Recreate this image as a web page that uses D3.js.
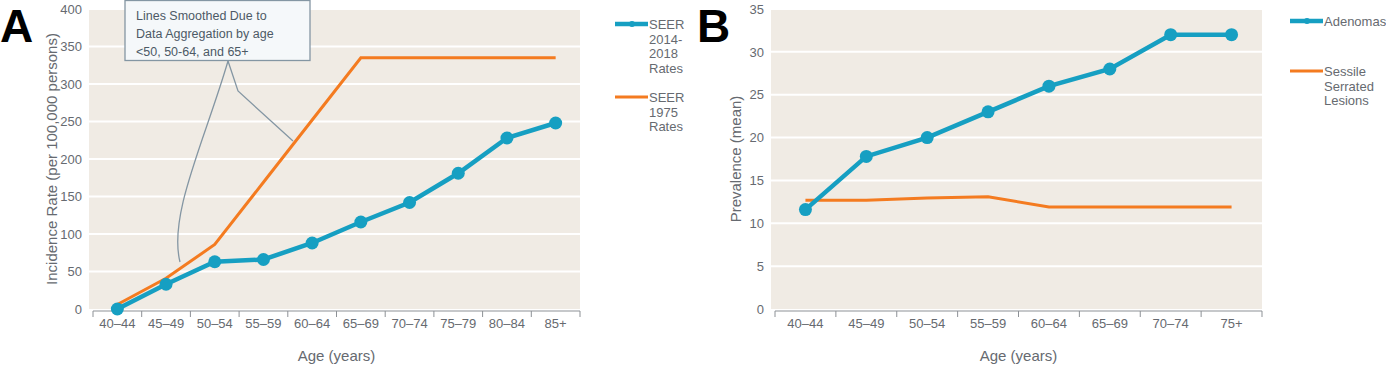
<!DOCTYPE html>
<html>
<head>
<meta charset="utf-8">
<script src="https://cdn.jsdelivr.net/npm/d3@7"></script>
<style>
  body { margin: 0; background: #fff; }
  text { font-family: "Liberation Sans", Arial, sans-serif; }
</style>
</head>
<body>
<svg id="chart" width="1386" height="367"></svg>
<script>
// panel A data
const agesA = ["40–44", "45–49", "50–54", "55–59", "60–64", "65–69", "70–74", "75–79", "80–84", "85+"];
const seer2014 = [0, 33, 63, 66, 88, 116, 142, 181, 228, 248];
const seer1975 = [6, 41, 86, 169, 252, 335, 335, 335, 335, 335];
const ticksA = [0, 50, 100, 150, 200, 250, 300, 350, 400];

// panel B data
const agesB = ["40–44", "45–49", "50–54", "55–59", "60–64", "65–69", "70–74", "75+"];
const adenomas = [11.6, 17.8, 20, 23, 26, 28, 32, 32];
const serrated = [12.7, 12.7, 12.95, 13.1, 11.9, 11.9, 11.9, 11.9];
const ticksB = [0, 5, 10, 15, 20, 25, 30, 35];

const blue = "#169fc2", orange = "#f47b20", grey = "#666a70";

const svg = d3.select("#chart");

// draws one panel: background, grid, axes, lines
function drawPanel(opt) {
  const x = d3.scaleBand().domain(opt.cats).range([opt.left, opt.right]);
  const y = d3.scaleLinear().domain([0, opt.max]).range([opt.bottom, opt.top]);
  const g = svg.append("g");

  g.append("rect")
    .attr("x", opt.left - 4).attr("y", opt.top)
    .attr("width", opt.right - opt.left + 4).attr("height", opt.bottom - opt.top)
    .attr("fill", "#f0ebe4");

  g.selectAll(".grid").data(opt.ticks.slice(1)).join("line")
    .attr("x1", opt.left - 4).attr("x2", opt.right)
    .attr("y1", d => y(d)).attr("y2", d => y(d))
    .attr("stroke", "#fff").attr("stroke-width", 2);

  // y tick labels
  const yAxis = g.append("g")
    .attr("transform", `translate(${opt.left - 4},0)`)
    .call(d3.axisLeft(y).tickValues(opt.ticks).tickSize(0).tickPadding(7));
  yAxis.select(".domain").remove();
  yAxis.selectAll("text").attr("fill", grey).attr("font-size", 13);

  // x axis with ticks between categories
  const xAxis = g.append("g").attr("transform", `translate(0,${opt.bottom + 2})`);
  xAxis.append("line")
    .attr("x1", opt.left).attr("x2", opt.right)
    .attr("stroke", "#8d9196").attr("stroke-width", 1);
  const edges = opt.cats.map(c => x(c)).concat([opt.right]);
  xAxis.selectAll(".tk").data(edges).join("line")
    .attr("x1", d => d).attr("x2", d => d).attr("y1", 0).attr("y2", 6)
    .attr("stroke", "#8d9196");
  xAxis.selectAll(".lbl").data(opt.cats).join("text")
    .attr("x", d => x(d) + x.bandwidth() / 2).attr("y", 17)
    .attr("text-anchor", "middle").attr("font-size", 13).attr("fill", grey)
    .text(d => d);

  g.append("text")
    .attr("x", (opt.left + opt.right) / 2).attr("y", 361)
    .attr("text-anchor", "middle").attr("font-size", 15).attr("fill", grey)
    .text("Age (years)");

  g.append("text")
    .attr("transform", `translate(${opt.titleX},${(opt.top + opt.bottom) / 2}) rotate(-90)`)
    .attr("text-anchor", "middle").attr("font-size", 15).attr("fill", grey)
    .text(opt.yTitle);

  const cx = c => x(c) + x.bandwidth() / 2;
  const line = d3.line().x((d, i) => cx(opt.cats[i])).y(d => y(d));

  g.append("path").datum(opt.orange)
    .attr("d", line).attr("fill", "none")
    .attr("stroke", orange).attr("stroke-width", 3);

  g.append("path").datum(opt.blue)
    .attr("d", line).attr("fill", "none")
    .attr("stroke", blue).attr("stroke-width", 4.5);
  g.selectAll(".dot").data(opt.blue).join("circle")
    .attr("cx", (d, i) => cx(opt.cats[i])).attr("cy", d => y(d))
    .attr("r", 6.5).attr("fill", blue);

  return { x, y, g };
}

// legend entry with multi-line label
function legendItem(x0, y0, color, width, lines, marker) {
  svg.append("line")
    .attr("x1", x0).attr("x2", x0 + 33).attr("y1", y0).attr("y2", y0)
    .attr("stroke", color).attr("stroke-width", width);
  if (marker) {
    svg.append("circle").attr("cx", x0 + 17).attr("cy", y0).attr("r", 3).attr("fill", color);
  }
  svg.append("text")
    .attr("x", x0 + 34).attr("y", y0 + 5)
    .attr("font-size", 13).attr("fill", grey)
    .selectAll("tspan").data(lines).join("tspan")
    .attr("x", x0 + 34).attr("dy", (d, i) => i ? 14.6 : 0)
    .text(d => d);
}

const A = drawPanel({
  cats: agesA, blue: seer2014, orange: seer1975, ticks: ticksA, max: 400,
  left: 93, right: 580, top: 9, bottom: 309, titleX: 57,
  yTitle: "Incidence Rate (per 100,000 persons)"
});

const B = drawPanel({
  cats: agesB, blue: adenomas, orange: serrated, ticks: ticksB, max: 35,
  left: 775, right: 1262, top: 9, bottom: 309, titleX: 741,
  yTitle: "Prevalence (mean)"
});

legendItem(615, 24, blue, 4.5, ["SEER", "2014-", "2018", "Rates"], true);
legendItem(615, 97, orange, 3, ["SEER", "1975", "Rates"], false);
legendItem(1290, 21, blue, 4.5, ["Adenomas"], true);
legendItem(1290, 71, orange, 3, ["Sessile", "Serrated", "Lesions"], false);

// callout for panel A
const callout = svg.append("g");
callout.append("path")
  .attr("d", "M228,61 L238,91 L293,141")
  .attr("fill", "none").attr("stroke", "#8496a3").attr("stroke-width", 1.3);
callout.append("path")
  .attr("d", "M228,61 C205,140 168,215 180,262")
  .attr("fill", "none").attr("stroke", "#8496a3").attr("stroke-width", 1.3);
callout.append("rect")
  .attr("x", 125).attr("y", 0.5).attr("width", 185).attr("height", 60)
  .attr("fill", "#f5f8fa").attr("stroke", "#8496a3").attr("stroke-width", 1.3);
callout.append("text")
  .attr("font-family", "'Open Sans', sans-serif").attr("font-size", 12.5).attr("fill", "#4d5a66")
  .selectAll("tspan").data(["Lines Smoothed Due to", "Data Aggregation by age", "<50, 50-64, and 65+"])
  .join("tspan").attr("x", 136).attr("y", (d, i) => 20 + i * 18).text(d => d);

// panel letters
svg.append("text").attr("x", 0).attr("y", 42)
  .attr("font-size", 46).attr("font-weight", "bold").attr("fill", "#000").text("A");
svg.append("text").attr("x", 697).attr("y", 42)
  .attr("font-size", 46).attr("font-weight", "bold").attr("fill", "#000").text("B");
</script>
</body>
</html>
